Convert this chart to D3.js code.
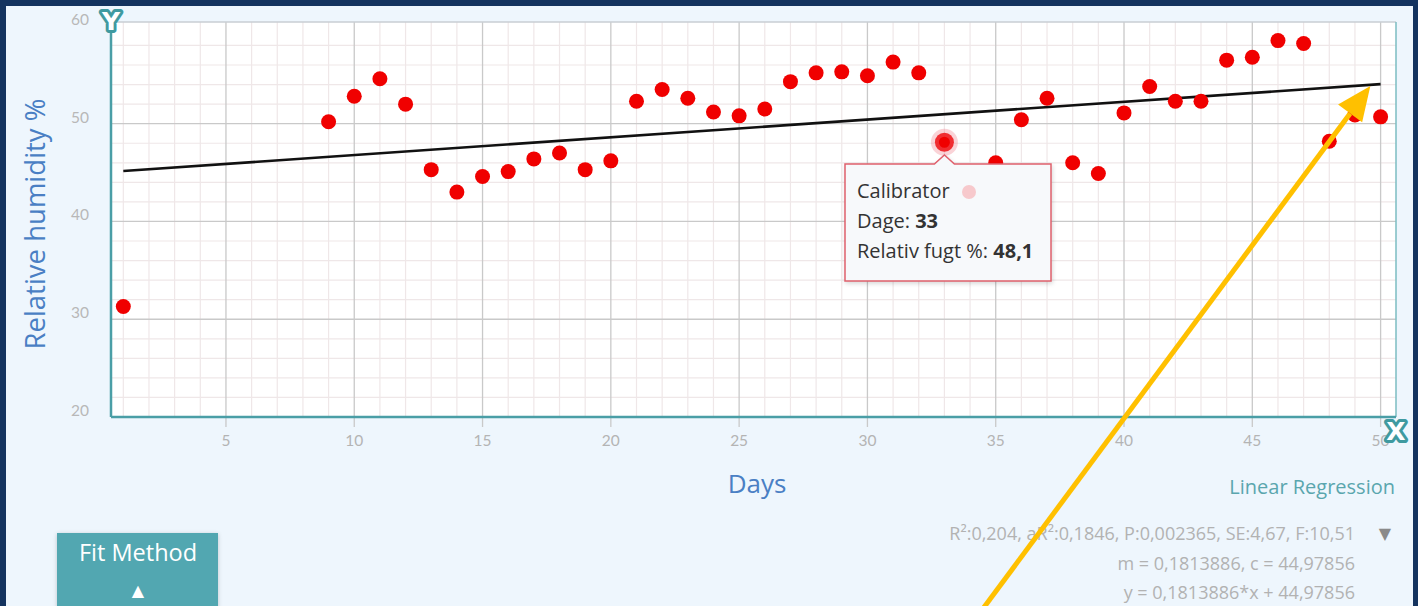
<!DOCTYPE html>
<html>
<head>
<meta charset="utf-8">
<script src="https://cdn.jsdelivr.net/npm/d3@7"></script>
<style>
  html, body { margin: 0; padding: 0; background: #14335f; }
  svg { display: block; }
</style>
</head>
<body>
<div id="chart"></div>
<script>
// data
var days = [1, 9, 10, 11, 12, 13, 14, 15, 16, 17, 18, 19, 20, 21, 22, 23, 24, 25, 26, 27, 28, 29, 30, 31, 32, 33,
            35, 36, 37, 38, 39, 40, 41, 42, 43, 44, 45, 46, 47, 48, 49, 50];
var humidity = [31.3, 50.2, 52.8, 54.6, 52.0, 45.3, 43.0, 44.6, 45.1, 46.4, 47.0, 45.3, 46.2, 52.3, 53.5, 52.6, 51.2, 50.8, 51.5, 54.3, 55.2, 55.3, 54.9, 56.3, 55.2, 48.1,
                46.0, 50.4, 52.6, 46.0, 44.9, 51.1, 53.8, 52.3, 52.3, 56.5, 56.8, 58.5, 58.2, 48.2, 50.9, 50.7];
var xTicks = [5, 10, 15, 20, 25, 30, 35, 40, 45, 50];
var yTicks = [20, 30, 40, 50, 60];
var fit = { m: 0.1813886, c: 44.97856 };
var statLines = [
  "R\u00b2:0,204, aR\u00b2:0,1846, P:0,002365, SE:4,67, F:10,51",
  "m = 0,1813886, c = 44,97856",
  "y = 0,1813886*x + 44,97856"
];
var tipLines = ["Calibrator", "Dage: ", "Relativ fugt %: "];
var tipValues = ["", "33", "48,1"];
var selectedDay = 33;

var W = 1418, H = 606;
var plot = { left: 111, right: 1396, top: 22, bottom: 417 };

var svg = d3.select("#chart").append("svg")
  .attr("width", W).attr("height", H);

// frame and panel
svg.append("rect").attr("width", W).attr("height", H).attr("fill", "#14335f");
svg.append("rect").attr("x", 6).attr("y", 6).attr("width", 1407).attr("height", H)
  .attr("fill", "#eef6fd");

var x = d3.scaleLinear().domain([0.52, 50.6]).range([plot.left, plot.right]);
var y = d3.scaleLinear().domain([20, 60.4]).range([plot.bottom, plot.top]);

svg.append("rect")
  .attr("x", plot.left).attr("y", plot.top)
  .attr("width", plot.right - plot.left).attr("height", plot.bottom - plot.top)
  .attr("fill", "#ffffff");

// minor grid
var minorX = d3.range(1, 51).filter(d => d % 5 !== 0);
var minorY = d3.range(22, 60, 2).filter(d => d % 10 !== 0);
svg.append("g").selectAll("line").data(minorX).enter().append("line")
  .attr("x1", d => x(d)).attr("x2", d => x(d))
  .attr("y1", plot.top).attr("y2", plot.bottom)
  .attr("stroke", "#efe7e8").attr("stroke-width", 1.2);
svg.append("g").selectAll("line").data(minorY).enter().append("line")
  .attr("x1", plot.left).attr("x2", plot.right)
  .attr("y1", d => y(d)).attr("y2", d => y(d))
  .attr("stroke", "#efe7e8").attr("stroke-width", 1.2);

// major grid
svg.append("g").selectAll("line").data(xTicks).enter().append("line")
  .attr("x1", d => x(d)).attr("x2", d => x(d))
  .attr("y1", plot.top).attr("y2", plot.bottom + 10)
  .attr("stroke", "#c9c9c9").attr("stroke-width", 1.3);
svg.append("g").selectAll("line").data(yTicks.filter(d => d > 20 && d < 60)).enter().append("line")
  .attr("x1", plot.left).attr("x2", plot.right)
  .attr("y1", d => y(d)).attr("y2", d => y(d))
  .attr("stroke", "#c9c9c9").attr("stroke-width", 1.3);

// borders
svg.append("line").attr("x1", plot.left).attr("x2", plot.right)
  .attr("y1", plot.top).attr("y2", plot.top).attr("stroke", "#c9ced3").attr("stroke-width", 1.5);
svg.append("line").attr("x1", plot.right).attr("x2", plot.right)
  .attr("y1", plot.top).attr("y2", plot.bottom).attr("stroke", "#7bbcc2").attr("stroke-width", 1.5);
svg.append("line").attr("x1", plot.left).attr("x2", plot.right)
  .attr("y1", plot.bottom).attr("y2", plot.bottom).attr("stroke", "#4a9ea6").attr("stroke-width", 2.5);
svg.append("line").attr("x1", plot.left).attr("x2", plot.left)
  .attr("y1", plot.top).attr("y2", plot.bottom).attr("stroke", "#4a9ea6").attr("stroke-width", 2.5);

// tick labels
svg.append("g").selectAll("text").data(xTicks).enter().append("text")
  .attr("x", d => x(d)).attr("y", 446)
  .attr("text-anchor", "middle")
  .attr("font-family", "Lato, 'Open Sans', sans-serif").attr("font-size", 15.5)
  .attr("fill", "#b4b4b4")
  .text(d => d);
svg.append("g").selectAll("text").data(yTicks).enter().append("text")
  .attr("x", 89).attr("y", d => y(d) - 1)
  .attr("text-anchor", "end")
  .attr("font-family", "Lato, 'Open Sans', sans-serif").attr("font-size", 15.5)
  .attr("fill", "#b8b8b8")
  .text(d => d);

// axis titles
svg.append("text")
  .attr("transform", "translate(45,224) rotate(-90)")
  .attr("text-anchor", "middle")
  .attr("font-family", "'Open Sans', sans-serif").attr("font-size", 27.5)
  .attr("fill", "#4a7fc4")
  .text("Relative humidity %");
svg.append("text")
  .attr("x", 757).attr("y", 493)
  .attr("text-anchor", "middle")
  .attr("font-family", "'Open Sans', sans-serif").attr("font-size", 26)
  .attr("fill", "#4a7fc4")
  .text("Days");

// axis icons
svg.append("text")
  .attr("x", plot.left).attr("y", 30)
  .attr("text-anchor", "middle")
  .attr("font-family", "'DejaVu Sans', sans-serif").attr("font-weight", "bold").attr("font-size", 25)
  .attr("fill", "#ffffff").attr("stroke", "#3f9aa0").attr("stroke-width", 6)
  .attr("stroke-linejoin", "round").attr("paint-order", "stroke")
  .text("Y");
svg.append("text")
  .attr("x", plot.right).attr("y", 440)
  .attr("text-anchor", "middle")
  .attr("font-family", "'DejaVu Sans', sans-serif").attr("font-weight", "bold").attr("font-size", 25)
  .attr("fill", "#ffffff").attr("stroke", "#3f9aa0").attr("stroke-width", 6)
  .attr("stroke-linejoin", "round").attr("paint-order", "stroke")
  .text("X");

// regression line
svg.append("line")
  .attr("x1", x(1)).attr("y1", y(fit.m * 1 + fit.c))
  .attr("x2", x(50)).attr("y2", y(fit.m * 50 + fit.c))
  .attr("stroke", "#111").attr("stroke-width", 2.6);

// points
var pts = days.map((d, i) => ({ day: d, value: humidity[i] }));
svg.append("g").selectAll("circle").data(pts).enter().append("circle")
  .attr("cx", d => x(d.day)).attr("cy", d => y(d.value))
  .attr("r", d => d.day === selectedDay ? 9.5 : 7.5)
  .attr("fill", "#f00000")
  .attr("stroke", d => d.day === selectedDay ? "rgba(240,130,140,0.35)" : "none")
  .attr("stroke-width", 8);

// tooltip
var sel = pts.find(d => d.day === selectedDay);
var tx = 845, ty = 164, tw = 206, th = 117;
var px = x(sel.day);
var tip = svg.append("g");
tip.append("path")
  .attr("d", "M" + tx + "," + ty + " H" + (px - 10) + " L" + px + "," + (ty - 9) + " L" + (px + 10) + "," + ty +
             " H" + (tx + tw) + " V" + (ty + th) + " H" + tx + " Z")
  .attr("fill", "#f7f9fb").attr("stroke", "#e0606c").attr("stroke-width", 1.5)
  .style("filter", "drop-shadow(1px 2px 2px rgba(0,0,0,0.15))");
var tt = tip.selectAll("text").data(tipLines).enter().append("text")
  .attr("x", tx + 12).attr("y", (d, i) => ty + 34 + i * 30)
  .attr("font-family", "'Open Sans', sans-serif").attr("font-size", 20)
  .attr("fill", "#333");
tt.append("tspan").text(d => d);
tt.append("tspan").attr("font-weight", "bold").text((d, i) => tipValues[i]);
tip.append("circle").attr("cx", tx + 124).attr("cy", ty + 28).attr("r", 7)
  .attr("fill", "#f7c9cc");

// labels under the plot
svg.append("text")
  .attr("x", 1395).attr("y", 494)
  .attr("text-anchor", "end")
  .attr("font-family", "'Open Sans', sans-serif").attr("font-size", 20)
  .attr("fill", "#5aa6ae")
  .text("Linear Regression");
svg.append("g").selectAll("text").data(statLines).enter().append("text")
  .attr("x", 1355).attr("y", (d, i) => 540 + i * 29.5)
  .attr("text-anchor", "end")
  .attr("font-family", "'Open Sans', sans-serif").attr("font-size", 18)
  .attr("fill", "#b2b2b2")
  .text(d => d);
svg.append("text")
  .attr("x", 1385).attr("y", 539)
  .attr("text-anchor", "middle")
  .attr("font-family", "'DejaVu Sans', sans-serif").attr("font-size", 16)
  .attr("fill", "#8a8a8a")
  .text("\u25bc");

// fit method button
svg.append("rect")
  .attr("x", 57).attr("y", 533).attr("width", 161).attr("height", 80)
  .attr("fill", "#52a7b1")
  .style("filter", "drop-shadow(0px 1px 2px rgba(0,0,0,0.2))");
svg.append("text")
  .attr("x", 138).attr("y", 561)
  .attr("text-anchor", "middle")
  .attr("font-family", "'Open Sans', sans-serif").attr("font-size", 23.5)
  .attr("fill", "#ffffff")
  .text("Fit Method");
svg.append("text")
  .attr("x", 138).attr("y", 596)
  .attr("text-anchor", "middle")
  .attr("font-family", "'DejaVu Sans', sans-serif").attr("font-size", 16)
  .attr("fill", "#ffffff")
  .text("\u25b2");

// yellow arrow pointing at the end of the fitted line
var arrowStart = [982, 610], arrowEnd = [x(49.6), y(fit.m * 50 + fit.c) + 2];
var ang = Math.atan2(arrowEnd[1] - arrowStart[1], arrowEnd[0] - arrowStart[0]);
var headLen = 34, headW = 15;
var bx = arrowEnd[0] - headLen * Math.cos(ang), by = arrowEnd[1] - headLen * Math.sin(ang);
svg.append("line")
  .attr("x1", arrowStart[0]).attr("y1", arrowStart[1])
  .attr("x2", bx).attr("y2", by)
  .attr("stroke", "#ffc000").attr("stroke-width", 5);
svg.append("path")
  .attr("d", "M" + arrowEnd[0] + "," + arrowEnd[1] +
             " L" + (bx + headW * Math.sin(ang)) + "," + (by - headW * Math.cos(ang)) +
             " L" + (bx - headW * Math.sin(ang)) + "," + (by + headW * Math.cos(ang)) + " Z")
  .attr("fill", "#ffc000");
</script>
</body>
</html>
